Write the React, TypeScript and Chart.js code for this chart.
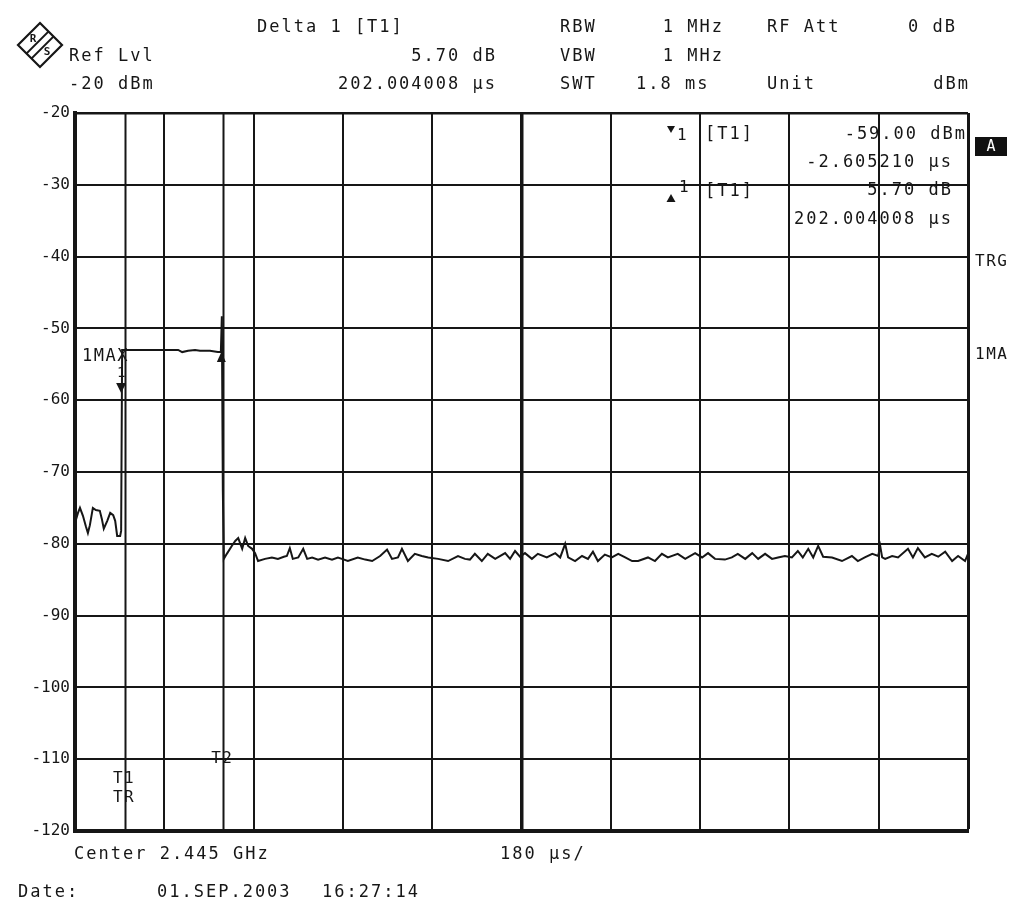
import React, { useEffect, useRef } from "react";
import { Chart, registerables } from "chart.js";

Chart.register(...registerables);

const FONT = '"DejaVu Sans Mono", "Liberation Mono", monospace';
const INK = "#161616";

// Sweep: 0 .. 1800 µs (180 µs/div), level -120 .. -20 dBm (10 dB/div)
const sweepStartUs = 0;
const sweepEndUs = 1800;
const usPerDiv = 180;
const refLevelDbm = -20;
const bottomLevelDbm = -120;
const dbPerDiv = 10;

// Trace 1 (max hold) sample times (µs) and levels (dBm)
const timeUs = [
  0, 6, 10, 16, 22, 26, 30, 36, 42, 50,
  54, 58, 65, 71, 77, 81, 85, 91, 93, 95,
  97, 131, 171, 208, 216, 228, 242, 252, 272, 288,
  294, 296, 298, 300, 306, 316, 323, 329, 337, 343,
  349, 357, 363, 369, 383, 397, 409, 421, 427, 433,
  439, 450, 460, 468, 478, 490, 504, 518, 530, 538,
  550, 570, 585, 599, 615, 629, 639, 651, 659, 671,
  685, 699, 712, 732, 752, 772, 786, 796, 806, 820,
  832, 847, 867, 877, 887, 897, 907, 921, 933, 951,
  968, 978, 988, 994, 1008, 1022, 1034, 1044, 1054, 1068,
  1082, 1095, 1109, 1123, 1135, 1155, 1169, 1183, 1195, 1215,
  1230, 1250, 1264, 1276, 1290, 1310, 1324, 1336, 1351, 1365,
  1377, 1391, 1405, 1417, 1431, 1445, 1457, 1467, 1478, 1488,
  1498, 1508, 1526, 1546, 1566, 1578, 1592, 1607, 1619, 1623,
  1627, 1633, 1647, 1659, 1679, 1689, 1699, 1713, 1727, 1740,
  1754, 1768, 1780, 1794, 1800,
];
const levelDbm = [
  -77.1, -75.7, -75.0, -76.1, -77.6, -78.5, -77.4, -75.0, -75.3, -75.4,
  -76.5, -77.9, -76.8, -75.7, -76.0, -76.8, -78.9, -78.9, -78.2, -53.0,
  -53.0, -53.0, -53.0, -53.0, -53.3, -53.1, -53.0, -53.1, -53.1, -53.3,
  -53.3, -48.3, -72.6, -82.1, -81.4, -80.3, -79.6, -79.2, -80.7, -79.2,
  -80.3, -80.7, -81.3, -82.4, -82.1, -81.9, -82.1, -81.8, -81.7, -80.6,
  -82.1, -81.9, -80.7, -82.1, -81.9, -82.2, -81.9, -82.2, -81.9, -82.1,
  -82.4, -81.9, -82.2, -82.4, -81.7, -80.8, -82.1, -81.9, -80.7, -82.4,
  -81.4, -81.7, -81.9, -82.1, -82.4, -81.7, -82.1, -82.2, -81.4, -82.4,
  -81.4, -82.1, -81.3, -82.1, -81.0, -81.8, -81.3, -82.1, -81.4, -81.9,
  -81.3, -81.9, -80.0, -81.9, -82.4, -81.7, -82.1, -81.1, -82.4, -81.5,
  -81.9, -81.4, -81.9, -82.4, -82.4, -81.9, -82.4, -81.4, -81.9, -81.4,
  -82.1, -81.3, -81.9, -81.3, -82.1, -82.2, -81.9, -81.4, -82.1, -81.3,
  -82.1, -81.4, -82.1, -81.9, -81.7, -81.9, -81.0, -81.9, -80.7, -81.9,
  -80.3, -81.8, -81.9, -82.4, -81.7, -82.4, -81.9, -81.4, -81.7, -80.3,
  -81.9, -82.1, -81.7, -81.9, -80.7, -81.9, -80.6, -81.9, -81.4, -81.8,
  -81.1, -82.4, -81.7, -82.4, -81.4,
];

// Markers: marker 1 (▼) and delta marker 1 (▲)
const markerTimeUs = [93, 295];
const markerLevelDbm = [-59.0, -53.3];

// Time lines T1, T2
const timeLineUs = [101, 299];
const timeLineNames = ["T1", "T2"];

// Header / footer texts
const headerLeft = ["Delta 1 [T1]", "Ref Lvl", "-20 dBm", "5.70 dB", "202.004008 µs"];
const headerRight = ["RBW", "1 MHz", "RF Att", "0 dB", "VBW", "1 MHz", "SWT", "1.8 ms", "Unit", "dBm"];
const markerTable = ["[T1]", "-59.00 dBm", "-2.605210 µs", "[T1]", "5.70 dB", "202.004008 µs"];
const footer = ["Center 2.445 GHz", "180 µs/", "Date:", "01.SEP.2003", "16:27:14"];

function txt(
  ctx: CanvasRenderingContext2D,
  s: string,
  x: number,
  y: number,
  align: CanvasTextAlign = "left",
  size = 17,
  spacing = 2,
  color = INK
) {
  ctx.save();
  ctx.font = `${size}px ${FONT}`;
  (ctx as any).letterSpacing = `${spacing}px`;
  ctx.textAlign = align;
  ctx.textBaseline = "middle";
  ctx.fillStyle = color;
  ctx.fillText(s, align === "right" ? x + spacing : x, y);
  ctx.restore();
}

function tri(ctx: CanvasRenderingContext2D, x: number, yTip: number, h: number, hw: number, down: boolean) {
  ctx.save();
  ctx.fillStyle = INK;
  ctx.beginPath();
  ctx.moveTo(x, yTip);
  const yb = down ? yTip - h : yTip + h;
  ctx.lineTo(x - hw, yb);
  ctx.lineTo(x + hw, yb);
  ctx.closePath();
  ctx.fill();
  ctx.restore();
}

function drawLogo(ctx: CanvasRenderingContext2D) {
  const cx = 40, cy = 45, r = 22;
  ctx.save();
  ctx.strokeStyle = INK;
  ctx.lineWidth = 2.2;
  ctx.beginPath();
  ctx.moveTo(cx, cy - r);
  ctx.lineTo(cx + r, cy);
  ctx.lineTo(cx, cy + r);
  ctx.lineTo(cx - r, cy);
  ctx.closePath();
  ctx.stroke();
  ctx.lineWidth = 1.8;
  for (const off of [-2.5, 2.5]) {
    ctx.beginPath();
    ctx.moveTo(cx - r / 2 + off, cy + r / 2 + off);
    ctx.lineTo(cx + r / 2 + off, cy - r / 2 + off);
    ctx.stroke();
  }
  ctx.fillStyle = INK;
  ctx.font = `bold 11px ${FONT}`;
  ctx.textAlign = "center";
  ctx.textBaseline = "middle";
  ctx.fillText("R", cx - 7, cy - 6);
  ctx.fillText("S", cx + 7, cy + 7);
  ctx.restore();
}

export default function App() {
  const ref = useRef<HTMLCanvasElement>(null);

  useEffect(() => {
    const canvas = ref.current!;
    const overlay = {
      id: "overlay",
      beforeDraw(chart: any) {
        const ctx = chart.ctx as CanvasRenderingContext2D;
        ctx.save();
        ctx.fillStyle = "#ffffff";
        ctx.fillRect(0, 0, chart.width, chart.height);
        ctx.restore();
      },
      beforeDatasetsDraw(chart: any) {
        const ctx = chart.ctx as CanvasRenderingContext2D;
        const xs = chart.scales.x;
        const a = chart.chartArea;
        ctx.save();
        ctx.strokeStyle = INK;
        ctx.lineWidth = 2;
        timeLineUs.forEach((t) => {
          const px = Math.round(xs.getPixelForValue(t)) + 0.5;
          ctx.beginPath();
          ctx.moveTo(px, a.top);
          ctx.lineTo(px, a.bottom);
          ctx.stroke();
        });
        ctx.restore();
      },
      afterDraw(chart: any) {
        const ctx = chart.ctx as CanvasRenderingContext2D;
        const xs = chart.scales.x;
        const ys = chart.scales.y;

        drawLogo(ctx);
        // header
        txt(ctx, headerLeft[0], 257, 28);
        txt(ctx, headerLeft[1], 69, 57);
        txt(ctx, headerLeft[2], 69, 85);
        txt(ctx, headerLeft[3], 495, 57, "right");
        txt(ctx, headerLeft[4], 495, 85, "right");
        txt(ctx, headerRight[0], 560, 28);
        txt(ctx, headerRight[1], 722, 28, "right");
        txt(ctx, headerRight[2], 767, 28);
        txt(ctx, headerRight[3], 955, 28, "right");
        txt(ctx, headerRight[4], 560, 57);
        txt(ctx, headerRight[5], 722, 57, "right");
        txt(ctx, headerRight[6], 560, 85);
        txt(ctx, headerRight[7], 636, 85);
        txt(ctx, headerRight[8], 767, 85);
        txt(ctx, headerRight[9], 968, 85, "right");

        // marker table
        tri(ctx, 671, 133, 7, 4, true);
        txt(ctx, "1", 677, 136, "left", 16, 1);
        txt(ctx, markerTable[0], 705, 135);
        txt(ctx, markerTable[1], 965, 135, "right");
        txt(ctx, markerTable[2], 951, 163, "right");
        tri(ctx, 671, 194, 8, 4.5, false);
        txt(ctx, "1", 679, 188, "left", 16, 1);
        txt(ctx, markerTable[3], 705, 192);
        txt(ctx, markerTable[4], 951, 191, "right");
        txt(ctx, markerTable[5], 951, 220, "right");

        // right side annotations
        ctx.save();
        ctx.fillStyle = "#111";
        ctx.fillRect(975, 137, 32, 19);
        ctx.restore();
        txt(ctx, "A", 991, 147, "center", 15, 0, "#ffffff");
        txt(ctx, "TRG", 975, 262, "left", 16, 1.5);
        txt(ctx, "1MA", 975, 355, "left", 16, 1.5);

        // trace label and markers
        const m1x = xs.getPixelForValue(markerTimeUs[0]);
        const m1y = ys.getPixelForValue(markerLevelDbm[0]);
        const m2x = xs.getPixelForValue(markerTimeUs[1]);
        const m2y = ys.getPixelForValue(markerLevelDbm[1]);
        txt(ctx, "1MAX", 82, 357, "left", 17, 1.5);
        txt(ctx, "1", m1x, 373, "center", 14, 0);
        tri(ctx, m1x, m1y, 10, 5, true);
        tri(ctx, m2x, m2y, 10, 4.5, false);

        // time line labels
        const t1x = xs.getPixelForValue(timeLineUs[0]);
        const t2x = xs.getPixelForValue(timeLineUs[1]);
        txt(ctx, timeLineNames[0], t1x - 1, 779, "center", 16, 1.5);
        txt(ctx, "TR", t1x - 1, 798, "center", 16, 1.5);
        txt(ctx, timeLineNames[1], t2x - 1, 759, "center", 16, 1.5);

        // footer
        txt(ctx, footer[0], 74, 855);
        txt(ctx, footer[1], 500, 855);
        txt(ctx, footer[2], 18, 893);
        txt(ctx, footer[3], 157, 893);
        txt(ctx, footer[4], 322, 893);
      },
    };

    const chart = new Chart(canvas, {
      type: "line",
      data: {
        datasets: [
          {
            data: timeUs.map((t, i) => ({ x: t, y: levelDbm[i] })),
            borderColor: INK,
            borderWidth: 2,
            pointRadius: 0,
            tension: 0,
            fill: false,
          },
        ],
      },
      options: {
        animation: false,
        responsive: false,
        devicePixelRatio: 1,
        layout: { padding: { left: 0, top: 113, right: 56, bottom: 81 } },
        plugins: { legend: { display: false }, tooltip: { enabled: false } },
        scales: {
          x: {
            type: "linear",
            min: sweepStartUs,
            max: sweepEndUs,
            ticks: { display: false, stepSize: usPerDiv },
            grid: {
              color: INK,
              drawTicks: false,
              lineWidth: (c: any) =>
                c.tick && c.tick.value === (sweepStartUs + sweepEndUs) / 2
                  ? 3.5
                  : c.tick && c.tick.value === sweepEndUs
                  ? 3
                  : 2,
            },
            border: { color: INK, width: 4 },
            afterFit: (s: any) => {
              s.height = 0;
            },
          },
          y: {
            min: bottomLevelDbm,
            max: refLevelDbm,
            ticks: {
              stepSize: dbPerDiv,
              color: INK,
              font: { family: FONT, size: 16 },
              padding: 5,
              callback: (v: any) => String(v),
            },
            grid: {
              color: INK,
              drawTicks: false,
              lineWidth: (c: any) => (c.tick && c.tick.value === refLevelDbm ? 2.5 : 2),
            },
            border: { color: INK, width: 4 },
            afterFit: (s: any) => {
              s.width = 75;
            },
          },
        },
      },
      plugins: [overlay],
    } as any);

    return () => chart.destroy();
  }, []);

  return (
    <div style={{ position: "absolute", left: 0, top: 0, width: 1024, height: 912, background: "#fff" }}>
      <canvas ref={ref} width={1024} height={912} style={{ display: "block" }} />
    </div>
  );
}
